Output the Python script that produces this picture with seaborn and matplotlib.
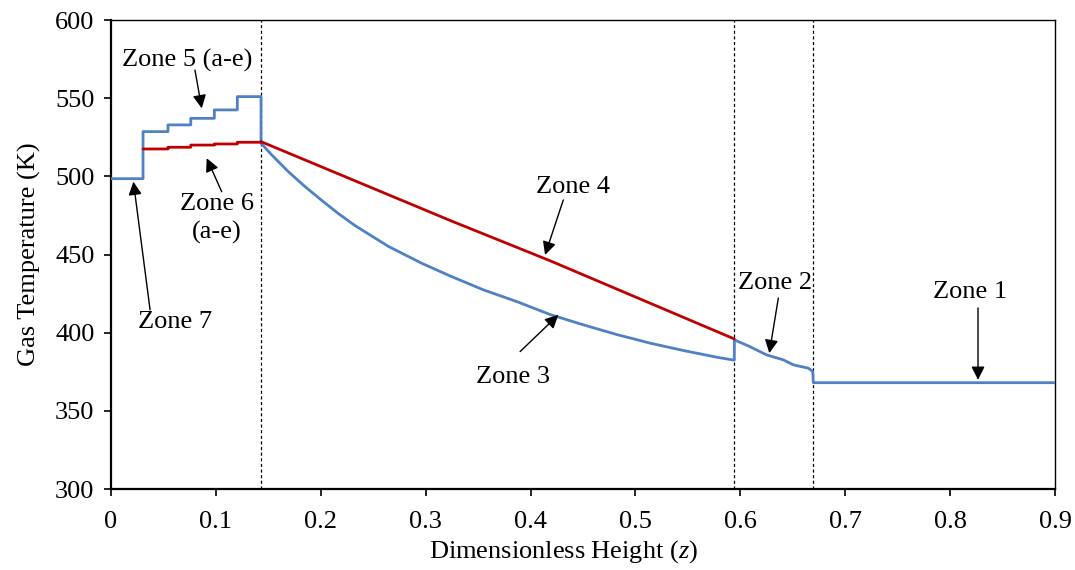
import numpy as np
import pandas as pd
import matplotlib
matplotlib.use("Agg")
import matplotlib.pyplot as plt
import seaborn as sns

# Zone 7 + Zone 5 (a-e) steps, blue
step_edges = [0.0, 0.0305, 0.0543, 0.076, 0.0985, 0.1204, 0.143]
blue_levels = [498.5, 528.6, 532.9, 537.1, 542.5, 551.0]
# Zone 6 (a-e) steps, red (starts at second edge)
red_levels = [517.5, 518.6, 520.0, 520.7, 521.8]

# Zone 3 curve, blue
z3_z = [0.143, 0.1532, 0.169, 0.185, 0.2009, 0.2167, 0.2326, 0.2644, 0.2962,
        0.3232, 0.355, 0.3868, 0.4186, 0.4504, 0.4822, 0.514, 0.5456, 0.5775, 0.5942]
z3_T = [521.2, 513.7, 503.0, 493.4, 484.6, 476.2, 468.5, 455.2, 444.4,
        436.3, 427.4, 419.9, 411.6, 405.0, 398.8, 393.3, 388.6, 384.3, 382.4]

# Zone 2 and Zone 1, blue
z2_z = [0.5943, 0.609, 0.625, 0.641, 0.6506, 0.6648, 0.6690, 0.6696, 0.9]
z2_T = [395.4, 391.1, 385.8, 382.6, 379.4, 377.3, 375.2, 368.0, 368.0]

# Zone 4 line, red
z4_z = [0.143, 0.3232, 0.4186, 0.5942]
z4_T = [522.2, 471.8, 446.0, 396.0]

zone_bounds = [0.143, 0.5942, 0.6696]

# annotations: text, text centre, arrow tail, arrow tip
notes = [
    ("Zone 5 (a-e)", (0.0725, 574.4), (0.080, 568.0), (0.0865, 543.5)),
    ("Zone 6\n(a-e)", (0.101, 473.0), (0.1055, 490.2), (0.0912, 511.6)),
    ("Zone 7", (0.061, 406.9), (0.0372, 414.6), (0.0213, 496.6)),
    ("Zone 4", (0.4405, 493.2), (0.4312, 484.9), (0.4138, 449.7)),
    ("Zone 3", (0.3833, 371.7), (0.390, 387.9), (0.4265, 411.4)),
    ("Zone 2", (0.633, 431.8), (0.6362, 422.1), (0.6276, 386.9)),
    ("Zone 1", (0.819, 426.0), (0.8266, 415.8), (0.8266, 369.8)),
]


def steps(edges, levels):
    xs, ys = [], []
    for i, lv in enumerate(levels):
        xs += [edges[i], edges[i + 1]]
        ys += [lv, lv]
    return xs, ys


bx, by = steps(step_edges, blue_levels)
blue = pd.DataFrame({"z": bx + z3_z + z2_z, "T": by + z3_T + z2_T})
rx, ry = steps(step_edges[1:], red_levels)
red = pd.DataFrame({"z": rx + z4_z, "T": ry + z4_T})

sns.set_style("ticks")
plt.rcParams["font.family"] = ["Liberation Serif", "DejaVu Serif"]
plt.rcParams["mathtext.fontset"] = "custom"
plt.rcParams["mathtext.it"] = "Liberation Serif:italic"
plt.rcParams["text.color"] = "black"
plt.rcParams["axes.labelcolor"] = "black"

fig = plt.figure(figsize=(10.75, 5.7), dpi=100)
ax = fig.add_axes([0.1033, 0.1421, 0.8781, 0.8228])

for zb in zone_bounds:
    ax.axvline(zb, color="black", lw=0.9, ls=(0, (2.5, 2)), zorder=1)

sns.lineplot(data=blue, x="z", y="T", sort=False, estimator=None,
             color="#4F81C4", lw=2.0, ax=ax, zorder=3)
sns.lineplot(data=red, x="z", y="T", sort=False, estimator=None,
             color="#C00000", lw=2.0, ax=ax, zorder=4)

for txt, tpos, tail, tip in notes:
    ax.text(tpos[0], tpos[1], txt, ha="center", va="center", fontsize=19,
            linespacing=1.35, color="black")
    ax.annotate("", xy=tip, xytext=tail,
                arrowprops=dict(arrowstyle="-|>", color="black", lw=1.0,
                                mutation_scale=20, shrinkA=0, shrinkB=0))

ax.set_xlim(0, 0.9)
ax.set_ylim(300, 600)
ax.set_xticks(np.arange(0, 0.91, 0.1))
ax.set_xticklabels(["0", "0.1", "0.2", "0.3", "0.4", "0.5", "0.6", "0.7", "0.8", "0.9"])
ax.set_yticks(range(300, 601, 50))
ax.set_xlabel("Dimensionless Height ($\\mathit{z}$)", fontsize=19, labelpad=3)
ax.xaxis.set_label_coords(0.479, -0.105)
ax.set_ylabel("Gas Temperature (K)", fontsize=19, labelpad=10)
ax.tick_params(axis="both", labelsize=19, direction="out", length=5, width=1.2,
               colors="black")
ax.tick_params(axis="x", pad=11)
ax.tick_params(axis="y", pad=7)
for sp in ax.spines.values():
    sp.set_visible(True)
    sp.set_color("black")
    sp.set_linewidth(1.0)
ax.spines["left"].set_linewidth(1.6)
ax.spines["bottom"].set_linewidth(1.6)

fig.savefig("out.png", dpi=100)
